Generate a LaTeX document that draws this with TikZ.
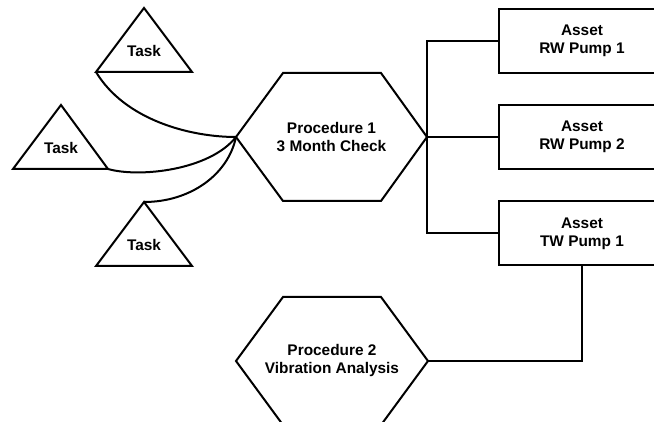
\documentclass[tikz,border=0pt]{standalone}
\usepackage{fontspec}
\setmainfont{Liberation Sans}
\begin{document}
\begin{tikzpicture}[x=1pt,y=-1pt,line width=2pt,
  lbl/.style={font=\fontsize{15.4}{18}\selectfont\bfseries,align=center,inner sep=0pt},
  assetbox/.style={draw,line width=2pt,minimum width=166pt,minimum height=64pt,inner sep=0pt,
    font=\fontsize{15.4}{18}\selectfont\bfseries,align=center}]
\useasboundingbox (0,0) rectangle (654,422);

% Tasks (triangles)
\draw (144,8) -- (192,72) -- (96,72) -- cycle;
\coordinate (t1) at (96,72);
\node[lbl] (task1) at (144,50.7) {Task};

\draw (61,105) -- (108,169) -- (13,169) -- cycle;
\coordinate (t2) at (108,169);
\node[lbl] (task2) at (61,147.7) {Task};

\draw (144,202) -- (192,266) -- (96,266) -- cycle;
\coordinate (t3) at (144,202);
\node[lbl] (task3) at (144,244.7) {Task};

% Procedure 1 hexagon
\draw (236,137) -- (283,73) -- (381,73) -- (427,137) -- (381,201) -- (283,201) -- cycle;
\coordinate (h1w) at (236,137);
\coordinate (h1e) at (427,137);
\node[lbl] (proc1) at (331.5,137) {Procedure 1\\3 Month Check};

% Procedure 2 hexagon
\draw (236,361) -- (283,297) -- (381,297) -- (428,361) -- (381,425) -- (283,425) -- cycle;
\coordinate (h2e) at (428,361);
\node[lbl] (proc2) at (332,361) {Procedure 2\\Vibration Analysis};

% Assets
\node[assetbox] (a1) at (582,41) {Asset\\RW Pump 1};
\node[assetbox] (a2) at (582,137) {Asset\\RW Pump 2};
\node[assetbox] (a3) at (582,233.5) {Asset\\TW Pump 1};

% Connectors
\draw (t1) .. controls (125,120) and (190,137) .. (h1w);
\draw (t2) .. controls (140,178) and (210,170) .. (h1w);
\draw (t3) .. controls (190,202) and (228,175) .. (h1w);

\draw (h1e) -- (a2.west);
\draw (a1.west) -| (h1e);
\draw (a3.west) -| (h1e);
\draw (a3.south) |- (h2e);
\end{tikzpicture}
\end{document}
